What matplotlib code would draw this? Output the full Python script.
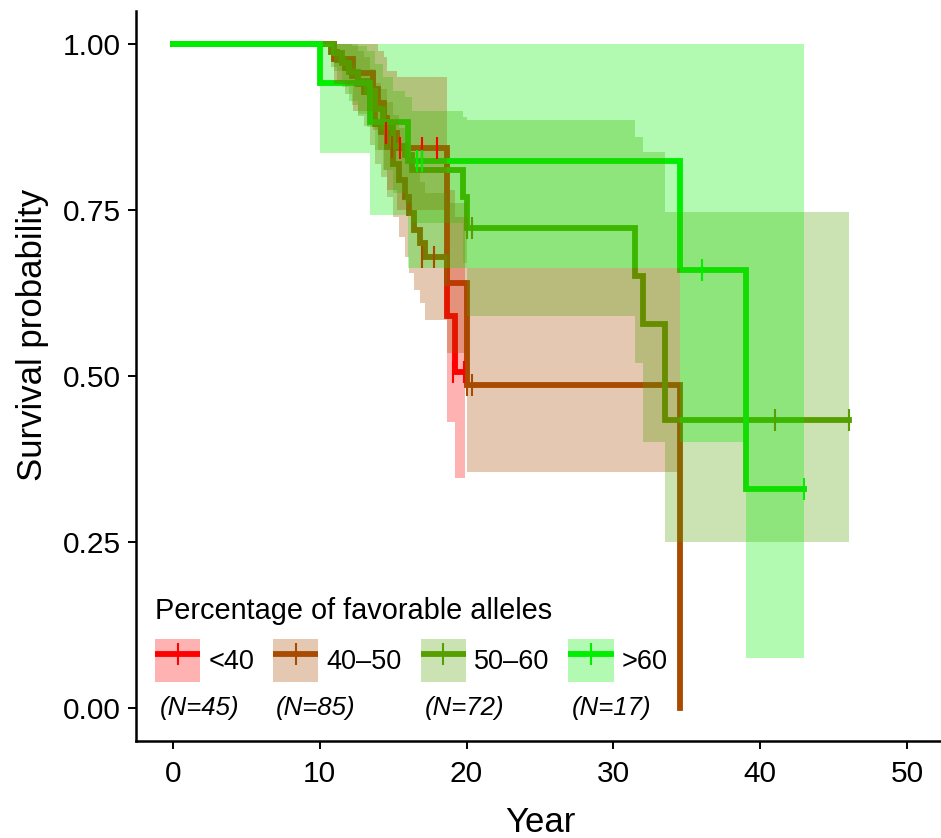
import matplotlib
matplotlib.use("Agg")
import matplotlib.pyplot as plt
from matplotlib.patches import Patch
from matplotlib.lines import Line2D
from matplotlib.legend_handler import HandlerTuple

plt.rcParams['font.family'] = ['Liberation Sans', 'DejaVu Sans']

# groups
groups = ['<40', '40\u201350', '50\u201360', '>60']
n_labels = ['(N=45)', '(N=85)', '(N=72)', '(N=17)']
colors = ['#FF0000', '#A84B00', '#55A000', '#00EE00']

# <40
t_lt40 = [0, 11.0, 12.3, 13.6, 14.0, 14.4, 14.6, 15.3, 18.65, 19.2, 19.9]
s_lt40 = [1.0, 0.978, 0.956, 0.933, 0.911, 0.889, 0.866, 0.843, 0.59, 0.506, 0.506]
lo_lt40 = [1.0, 0.94, 0.90, 0.87, 0.84, 0.81, 0.78, 0.75, 0.43, 0.346, 0.346]
hi_lt40 = [1.0, 1.0, 1.0, 1.0, 0.99, 0.98, 0.96, 0.95, 0.78, 0.74, 0.74]
ct_lt40 = [14.5, 15.5, 17.0, 18.0, 19.1, 19.8]
cs_lt40 = [0.866, 0.843, 0.843, 0.843, 0.506, 0.506]

# 40-50
t_4050 = [0, 10.8, 11.2, 11.7, 12.2, 12.6, 13.0, 13.4, 13.8, 14.2, 14.6, 15.0, 15.4, 15.8,
          16.1, 16.4, 16.8, 17.2, 18.7, 20.0, 34.5]
s_4050 = [1.0, 0.988, 0.976, 0.964, 0.952, 0.94, 0.928, 0.904, 0.88, 0.868, 0.845, 0.82,
          0.795, 0.77, 0.745, 0.72, 0.70, 0.68, 0.64, 0.487, 0.0]
lo_4050 = [1.0, 0.965, 0.945, 0.925, 0.908, 0.892, 0.876, 0.848, 0.82, 0.80, 0.77, 0.74,
           0.71, 0.68, 0.655, 0.63, 0.61, 0.585, 0.535, 0.355, 0.0]
hi_4050 = [1.0, 1.0, 1.0, 1.0, 0.998, 0.99, 0.98, 0.962, 0.942, 0.932, 0.913, 0.893,
           0.873, 0.852, 0.83, 0.81, 0.792, 0.775, 0.76, 0.663, 0.0]
ct_4050 = [14.9, 17.0, 17.8, 20.0, 20.4]
cs_4050 = [0.845, 0.68, 0.68, 0.487, 0.487]

# 50-60
t_5060 = [0, 11.0, 11.5, 12.0, 12.6, 13.2, 13.8, 14.3, 15.0, 15.8, 16.3, 19.75, 20.0,
          31.5, 32.0, 33.5, 46.0]
s_5060 = [1.0, 0.986, 0.972, 0.958, 0.944, 0.93, 0.903, 0.875, 0.847, 0.833, 0.81, 0.77,
          0.723, 0.651, 0.578, 0.434, 0.434]
lo_5060 = [1.0, 0.96, 0.935, 0.915, 0.895, 0.875, 0.84, 0.81, 0.775, 0.76, 0.73, 0.67,
           0.59, 0.52, 0.40, 0.25, 0.25]
hi_5060 = [1.0, 1.0, 1.0, 1.0, 0.998, 0.99, 0.97, 0.95, 0.93, 0.92, 0.90, 0.89, 0.885,
           0.86, 0.837, 0.747, 0.747]
ct_5060 = [20.0, 20.4, 41.0, 46.0]
cs_5060 = [0.723, 0.723, 0.434, 0.434]

# >60
t_gt60 = [0, 10.0, 13.4, 16.0, 34.5, 39.0, 43.0]
s_gt60 = [1.0, 0.941, 0.882, 0.824, 0.659, 0.329, 0.329]
lo_gt60 = [1.0, 0.836, 0.742, 0.663, 0.40, 0.075, 0.075]
hi_gt60 = [1.0, 1.0, 1.0, 1.0, 1.0, 1.0, 1.0]
ct_gt60 = [16.6, 17.0, 36.0, 43.0]
cs_gt60 = [0.824, 0.824, 0.659, 0.329]

curves = [
    (t_lt40, s_lt40, lo_lt40, hi_lt40, ct_lt40, cs_lt40),
    (t_4050, s_4050, lo_4050, hi_4050, ct_4050, cs_4050),
    (t_5060, s_5060, lo_5060, hi_5060, ct_5060, cs_5060),
    (t_gt60, s_gt60, lo_gt60, hi_gt60, ct_gt60, cs_gt60),
]
n_x = [1.8, 9.7, 19.9, 29.9]

fig = plt.figure(figsize=(9.41, 8.38), dpi=100)
ax = fig.add_axes([136/941, 1 - 741/838, 808/941, 730/838])

lw = 4.2
# steps first, ribbons on top of them, censor marks last (like survminer)
for (t, s, lo, hi, ct, cs), c in zip(curves, colors):
    ax.step(t, s, where='post', color=c, lw=lw, solid_joinstyle='miter', zorder=2)
for (t, s, lo, hi, ct, cs), c in zip(curves, colors):
    ax.fill_between(t, lo, hi, step='post', color=c, alpha=0.3, lw=0, zorder=3)
for (t, s, lo, hi, ct, cs), c in zip(curves, colors):
    ax.plot(ct, cs, ls='none', marker='|', ms=16, mew=1.5, color=c, zorder=4)

for x, lab in zip(n_x, n_labels):
    ax.text(x, 0.0, lab, fontsize=18.5, style='italic', ha='center', va='center')

ax.set_xlim(-2.5, 52.5)
ax.set_ylim(-0.05, 1.05)
ax.set_xticks([0, 10, 20, 30, 40, 50])
ax.set_yticks([0, 0.25, 0.5, 0.75, 1.0])
ax.set_yticklabels(['0.00', '0.25', '0.50', '0.75', '1.00'])
ax.tick_params(labelsize=21.5, length=6, width=1.4, pad=8)
ax.tick_params(axis='y', pad=5)
for side in ['top', 'right']:
    ax.spines[side].set_visible(False)
for side in ['left', 'bottom']:
    ax.spines[side].set_linewidth(1.8)
ax.set_xlabel('Year', fontsize=25)
ax.set_ylabel('Survival probability', fontsize=25)
ax.xaxis.set_label_coords((540 - 136) / 808, -(822 - 741) / 730)
ax.yaxis.set_label_coords(-(136 - 33) / 808, (741 - 335) / 730)
ax.xaxis.label.set_va('center')
ax.yaxis.label.set_va('center')

handles = [(Patch(facecolor=c, alpha=0.3, lw=0),
            Line2D([], [], color=c, lw=lw, marker='|', ms=16, mew=1.5,
                   solid_capstyle='butt')) for c in colors]
leg = ax.legend(handles, groups, loc='upper left', bbox_to_anchor=(155/941, 1 - 597/838),
                bbox_transform=fig.transFigure, ncol=4, frameon=False, fontsize=19.5,
                title='Percentage of favorable alleles', title_fontsize=20.8,
                handlelength=1.67, handleheight=2.07, handletextpad=0.3,
                columnspacing=0.7, labelspacing=0.5, borderpad=0, borderaxespad=0,
                alignment='left',
                handler_map={tuple: HandlerTuple(ndivide=1, pad=0)})

fig.savefig('out.png', dpi=100)
